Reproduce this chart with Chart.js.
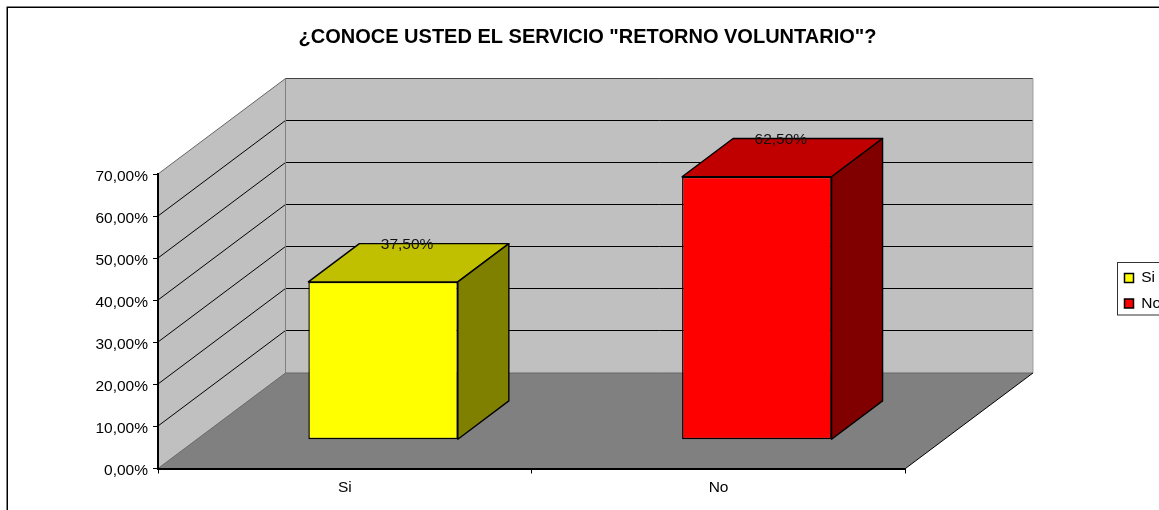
<!DOCTYPE html>
<html>
<head>
<meta charset="utf-8">
<style>html,body{margin:0;padding:0;background:#fff}canvas{display:block}</style>
<script src="https://cdn.jsdelivr.net/npm/chart.js@4"></script>
</head>
<body>
<canvas id="c" width="1159" height="510"></canvas>
<script>
const categories = ["Si", "No"];
const values = [37.5, 62.5];
const tickLabels = ["0,00%","10,00%","20,00%","30,00%","40,00%","50,00%","60,00%","70,00%"];
const valueLabels = ["37,50%", "62,50%"];
const frontColors = ["#ffff00", "#ff0000"];
const topColors = ["#c0c000", "#c00000"];
const sideColors = ["#808000", "#800000"];
const chartTitle = '¿CONOCE USTED EL SERVICIO "RETORNO VOLUNTARIO"?';
const FONT = '"Liberation Sans", Arial, sans-serif';

const WALL_DX = 127.5, WALL_DY = 95.5;   // depth of the room
const BAR_SHIFT_X = 38.25, BAR_SHIFT_Y = -28.8; // bar front inside the room
const BAR_DX = 51, BAR_DY = 38.3;        // depth of each bar

function poly(ctx, pts, fill, stroke, lw) {
  ctx.beginPath();
  pts.forEach((p, i) => i ? ctx.lineTo(p[0], p[1]) : ctx.moveTo(p[0], p[1]));
  ctx.closePath();
  if (fill) { ctx.fillStyle = fill; ctx.fill(); }
  if (stroke) { ctx.strokeStyle = stroke; ctx.lineWidth = lw || 1; ctx.lineJoin = 'round'; ctx.stroke(); }
}
function line(ctx, x1, y1, x2, y2, c, lw) {
  ctx.beginPath(); ctx.moveTo(x1, y1); ctx.lineTo(x2, y2);
  ctx.strokeStyle = c; ctx.lineWidth = lw || 1; ctx.stroke();
}

const room3d = {
  id: 'room3d',
  afterLayout(chart) {
    const lg = chart.legend;
    const w = lg.width, h = lg.height;
    lg.left = 1114.5; lg.right = lg.left + w;
    lg.top = 260.2; lg.bottom = lg.top + h;
    // centre the title over the whole picture area used by the reference
    chart.titleBlock.left = 16; chart.titleBlock.right = 1159;
    // tick labels sit slightly under their tick marks
    const y = chart.scales.y;
    if (!y._shifted) {
      y._shifted = true;
      const orig = y.drawLabels;
      y.drawLabels = function (area) {
        this.ctx.save();
        this.ctx.translate(0, 2.5);
        orig.call(this, area);
        this.ctx.restore();
      };
    }
  },
  beforeDraw(chart) {
    const ctx = chart.ctx, a = chart.chartArea, y = chart.scales.y;
    const L = a.left, R = a.right, T = y.getPixelForValue(70), B = y.getPixelForValue(0);
    ctx.save();
    ctx.fillStyle = '#fff';
    ctx.fillRect(0, 0, chart.width, chart.height);
    // outer frame (open on the right and bottom, beyond the picture)
    ctx.strokeStyle = '#000'; ctx.lineWidth = 1.5;
    ctx.strokeRect(7.25, 7.25, chart.width + 20, chart.height + 20);
    // walls and floor
    poly(ctx, [[L,B],[L+WALL_DX,B-WALL_DY],[L+WALL_DX,T-WALL_DY],[L,T]], '#c0c0c0');
    poly(ctx, [[L+WALL_DX,B-WALL_DY],[R+WALL_DX,B-WALL_DY],[R+WALL_DX,T-WALL_DY],[L+WALL_DX,T-WALL_DY]], '#c0c0c0');
    poly(ctx, [[L,B],[R,B],[R+WALL_DX,B-WALL_DY],[L+WALL_DX,B-WALL_DY]], '#808080');
    // grid lines on both walls
    y.ticks.forEach(t => {
      if (t.value === 0 || t.value === 70) return;
      const py = Math.round(y.getPixelForValue(t.value)) ;
      line(ctx, L, py, L + WALL_DX, py - WALL_DY, '#000');
      line(ctx, L + WALL_DX, py - WALL_DY, R + WALL_DX, py - WALL_DY, '#000');
    });
    // edges
    line(ctx, L, T, L + WALL_DX, T - WALL_DY, '#666');
    line(ctx, L + WALL_DX, T - WALL_DY, R + WALL_DX, T - WALL_DY, '#444');
    line(ctx, L + WALL_DX, T - WALL_DY, L + WALL_DX, B - WALL_DY, '#808080');
    line(ctx, R + WALL_DX, T - WALL_DY, R + WALL_DX, B - WALL_DY, '#999');
    line(ctx, L, B, L + WALL_DX, B - WALL_DY, '#666');
    line(ctx, L + WALL_DX, B - WALL_DY, R + WALL_DX, B - WALL_DY, '#666');
    line(ctx, R, B, R + WALL_DX, B - WALL_DY, '#000');
    ctx.restore();
  },
  beforeDatasetDraw(chart, args) {
    const ctx = chart.ctx;
    ctx.save();
    ctx.translate(BAR_SHIFT_X, BAR_SHIFT_Y);
    args.meta.data.forEach((bar, i) => {
      const p = bar.getProps(['x','y','base','width'], true);
      const l = p.x - p.width / 2, r = p.x + p.width / 2;
      poly(ctx, [[l,p.y],[r,p.y],[r+BAR_DX,p.y-BAR_DY],[l+BAR_DX,p.y-BAR_DY]], topColors[i], '#000', 1.4);
      poly(ctx, [[r,p.y],[r+BAR_DX,p.y-BAR_DY],[r+BAR_DX,p.base-BAR_DY],[r,p.base]], sideColors[i], '#000', 1.4);
    });
  },
  afterDatasetDraw(chart) { chart.ctx.restore(); },
  afterDatasetsDraw(chart) {
    const ctx = chart.ctx, meta = chart.getDatasetMeta(0);
    ctx.save();
    ctx.font = '15.5px ' + FONT;
    ctx.fillStyle = '#111';
    ctx.textAlign = 'center';
    ctx.textBaseline = 'middle';
    meta.data.forEach((bar, i) => {
      const p = bar.getProps(['x','y'], true);
      ctx.fillText(valueLabels[i], p.x + BAR_SHIFT_X + 24, p.y + BAR_SHIFT_Y - BAR_DY + 1.5);
    });
    ctx.restore();
  },
  afterDraw(chart) {
    const ctx = chart.ctx;
    ctx.save();
    ctx.strokeStyle = '#333'; ctx.lineWidth = 1;
    ctx.strokeRect(1117.5, 262.5, 60, 52.5);
    ctx.restore();
  }
};

new Chart(document.getElementById('c'), {
  type: 'bar',
  plugins: [room3d],
  data: {
    labels: categories,
    datasets: [{
      label: 'Serie',
      data: values,
      backgroundColor: frontColors,
      borderColor: '#000',
      borderWidth: 1.4,
      borderSkipped: false,
      barPercentage: 0.4,
      categoryPercentage: 1,
      clip: false
    }]
  },
  options: {
    responsive: false,
    animation: false,
    layout: { padding: { right: 197 } },
    plugins: {
      tooltip: { enabled: false },
      title: {
        display: true,
        text: chartTitle,
        color: '#000',
        font: { family: FONT, size: 20, weight: 'bold' },
        padding: { top: 25, bottom: 125 }
      },
      legend: {
        display: true,
        position: 'right',
        align: 'start',
        labels: {
          boxWidth: 9, boxHeight: 9, padding: 10, color: '#000',
          font: { family: FONT, size: 15.5 },
          generateLabels: () => categories.map((c, i) => ({
            text: c, fillStyle: frontColors[i], strokeStyle: '#000', lineWidth: 1.5, index: i
          }))
        }
      }
    },
    scales: {
      x: {
        afterFit(s) { s.height = 41.5; },
        grid: { display: true, drawOnChartArea: false, color: '#000', tickLength: 5, tickColor: '#000' },
        border: { display: true, color: '#000', width: 2 },
        ticks: { color: '#000', padding: 5, maxRotation: 0, font: { family: FONT, size: 15.5 } }
      },
      y: {
        min: 0, max: 70,
        afterFit(s) { s.width = 158; },
        grid: { display: true, drawOnChartArea: false, color: '#000', tickLength: 5, tickColor: '#000' },
        border: { display: true, color: '#000', width: 2 },
        ticks: {
          stepSize: 10, color: '#000', padding: 5,
          font: { family: FONT, size: 15.5 },
          callback: (v) => tickLabels[v / 10]
        }
      }
    }
  }
});
</script>
</body>
</html>
